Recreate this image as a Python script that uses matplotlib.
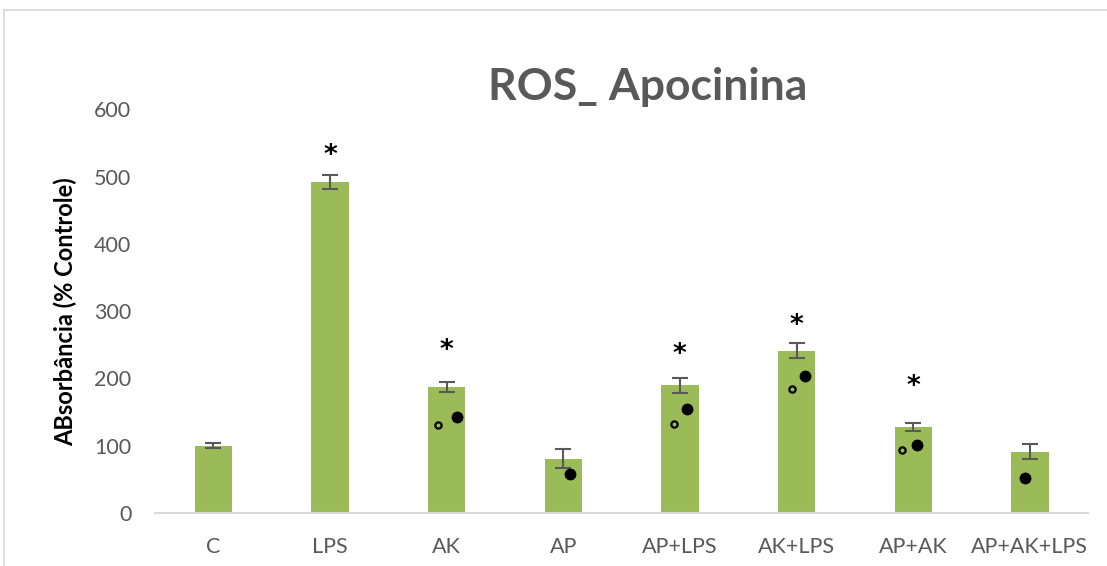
import matplotlib.pyplot as plt
from matplotlib.lines import Line2D

plt.rcParams['font.family'] = ['Lato', 'DejaVu Sans']

grupos = ['C', 'LPS', 'AK', 'AP', 'AP+LPS', 'AK+LPS', 'AP+AK', 'AP+AK+LPS']
media = [100, 492, 187, 81, 190, 241, 128, 91]
erro = [4, 10, 7, 14, 11, 11, 6.5, 11]

# asteriscos (diferença vs controle)
ast_x = [1, 2, 4, 5, 6]
ast_y = [539, 250, 244, 287, 196]

# símbolos: círculo aberto / círculo cheio
aberto_x = [1.93, 3.95, 4.96, 5.9]
aberto_y = [131, 133, 185, 93]
cheio_x = [2.09, 3.06, 4.06, 5.07, 6.03, 6.96]
cheio_y = [142, 58, 155, 204, 101, 52]

verde = '#9BBB59'
cinza = '#595959'

fig = plt.figure(figsize=(11.07, 5.66), dpi=100)
ax = fig.add_axes([0.140, 0.0936, 0.843, 0.7134])

x = range(len(grupos))
ax.bar(x, media, width=0.32, color=verde, zorder=2)
ax.errorbar(x, media, yerr=erro, fmt='none', ecolor=cinza, elinewidth=1.5,
            capsize=6, capthick=1.5, zorder=3)

# o glifo '*' fica acima do centro da caixa de texto, por isso desce um pouco
for xi, yi in zip(ast_x, ast_y):
    ax.text(xi, yi - 9, '*', ha='center', va='center', fontsize=19,
            fontweight='bold', color='black', family='DejaVu Sans', zorder=4)

ax.plot(aberto_x, aberto_y, 'o', ms=4.5, mfc='none', mec='black', mew=1.6, zorder=4)
ax.plot(cheio_x, cheio_y, 'o', ms=7.5, color='black', zorder=4)

ax.set_xlim(-0.5, 7.5)
ax.set_ylim(0, 600)
ax.set_yticks(range(0, 601, 100))
ax.set_xticks(list(x))
ax.set_xticklabels(grupos)
ax.tick_params(axis='both', length=0, labelsize=15.5, labelcolor=cinza)
ax.tick_params(axis='x', pad=17)
ax.tick_params(axis='y', pad=17)

for s in ['top', 'right', 'left']:
    ax.spines[s].set_visible(False)
ax.spines['bottom'].set_color('#D9D9D9')
ax.spines['bottom'].set_linewidth(1.5)

ax.set_ylabel('ABsorbância (% Controle)', fontsize=17, fontweight='bold',
              color='black', labelpad=12)

fig.text(0.585, 0.846, 'ROS_ Apocinina', ha='center', va='center',
         fontsize=32, fontweight='bold', color=cinza)

# moldura do gráfico
fig.add_artist(Line2D([0.0036, 1.0], [0.983, 0.983], color='#D9D9D9', lw=1.2))
fig.add_artist(Line2D([0.0036, 0.0036], [0.0, 0.983], color='#D9D9D9', lw=1.2))

fig.savefig('out.png', dpi=100)
